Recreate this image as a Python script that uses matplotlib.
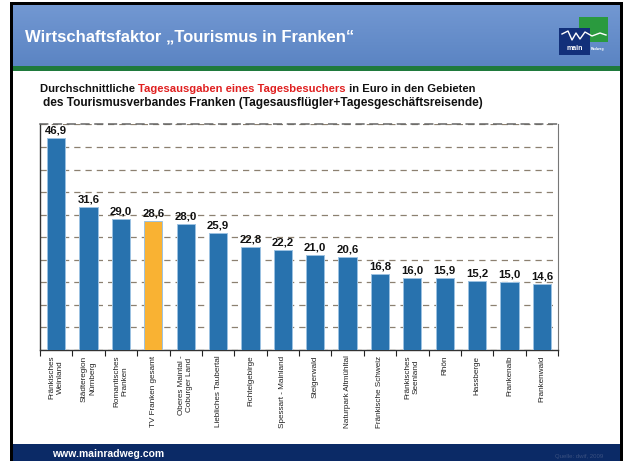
import matplotlib
matplotlib.use("Agg")
import matplotlib.pyplot as plt
from matplotlib.patches import Rectangle
import numpy as np

plt.rcParams['font.family'] = ['Liberation Sans', 'DejaVu Sans']

categories = ["Fränkisches\nWeinland", "Städteregion\nNürnberg", "Romantisches\nFranken",
              "TV Franken gesamt", "Oberes Maintal -\nCoburger Land", "Liebliches Taubertal",
              "Fichtelgebirge", "Spessart - Mainland", "Steigerwald", "Naturpark Altmühltal",
              "Fränkische Schweiz", "Fränkisches\nSeenland", "Rhön", "Hassberge",
              "Frankenalb", "Frankenwald"]
values = [46.9, 31.6, 29.0, 28.6, 28.0, 25.9, 22.8, 22.2, 21.0, 20.6,
          16.8, 16.0, 15.9, 15.2, 15.0, 14.6]
highlight = "TV Franken gesamt"

W, H = 625, 461
fig = plt.figure(figsize=(W / 100, H / 100), dpi=100)
fig.patch.set_facecolor('white')

def fx(x):
    return x / W

def fy(y):
    return 1 - y / H

def rect(x0, y0, x1, y1, color, z=0, **kw):
    fig.patches.append(Rectangle((fx(x0), fy(y1)), fx(x1) - fx(x0), fy(y0) - fy(y1),
                                 transform=fig.transFigure, facecolor=color,
                                 edgecolor='none', zorder=z, **kw))

# slide frame
rect(10, 2, 623, 461, 'black', z=-2)
rect(13, 5, 620, 461, 'white', z=-1)
# header gradient
grad = np.linspace(0, 1, 60).reshape(-1, 1)
hax = fig.add_axes([fx(13), fy(66), fx(620) - fx(13), fy(5) - fy(66)])
hax.imshow(grad, aspect='auto', cmap=matplotlib.colors.LinearSegmentedColormap.from_list(
    'h', ['#7298d2', '#5b84c3']), extent=[0, 1, 0, 1])
hax.axis('off')
hax.set_zorder(1)
rect(13, 66, 620, 71, '#1f7a3c', z=2)
# footer
rect(13, 444, 620, 461, '#0b2a66', z=2)
fig.text(fx(52), fy(454), "www.mainradweg.com", color='white', fontsize=7.5,
         fontweight='bold', va='center', ha='left', zorder=5)
fig.text(fx(603), fy(456), "Quelle: dwif, 2009", color='#3a5080', fontsize=4.3,
         va='center', ha='right', zorder=5)

# title
fig.text(fx(25), fy(37), "Wirtschaftsfaktor \u201eTourismus in Franken\u201c", color='white',
         fontsize=12, fontweight='bold', va='center', ha='left', zorder=5)

# logo
rect(579, 17, 608, 42, '#2a9a3e', z=5)
rect(559, 28, 590, 55, '#12307a', z=6)
fig.text(fx(575), fy(49), "main", color='white', fontsize=5, fontweight='bold',
         ha='center', va='center', zorder=7)
fig.text(fx(598), fy(49), "Radweg", color='white', fontsize=2.5, fontweight='bold',
         ha='center', va='center', zorder=7)
fig.lines.append(matplotlib.lines.Line2D(
    [fx(562), fx(568), fx(572), fx(576), fx(580), fx(585), fx(592), fx(600), fx(606)],
    [fy(34), fy(31), fy(40), fy(33), fy(39), fy(32), fy(36), fy(33), fy(35)],
    transform=fig.transFigure, color='white', lw=1, zorder=7))

# subtitle with red part
renderer = fig.canvas.get_renderer()
def colored_line(parts, x, y, size=8.3):
    cur = x
    for txt, col in parts:
        t = fig.text(fx(cur), fy(y), txt, color=col, fontsize=size, fontweight='bold',
                     ha='left', va='center', zorder=5)
        bb = t.get_window_extent(renderer=renderer)
        cur += bb.width
colored_line([("Durchschnittliche ", '#111111'),
              ("Tagesausgaben eines Tagesbesuchers", '#e02020'),
              (" in Euro in den Gebieten", '#111111')], 40, 89, size=8.15)
colored_line([("des Tourismusverbandes Franken (Tagesausflügler+Tagesgeschäftsreisende)", '#111111')],
             43, 103, size=8.6)

# chart
ax = fig.add_axes([fx(40), fy(350), fx(558) - fx(40), fy(124.5) - fy(350)])
ax.set_zorder(3)
x = np.arange(len(values))
colors = ['#f9b233' if c == highlight else '#2872ae' for c in categories]
ax.bar(x, values, width=0.56, color=colors, edgecolor='#9cc2e2', linewidth=0.7, zorder=3)
for xi, v in zip(x, values):
    ax.text(xi, v + 0.6, f"{v:.1f}".replace('.', ','), ha='center', va='bottom',
            fontsize=8.2, fontweight='bold', color='#111111', zorder=4)
ax.set_xlim(-0.5, len(values) - 0.5)
ax.set_ylim(0, 50)
ax.set_yticks(np.arange(0, 51, 5))
ax.set_yticklabels([])
ax.tick_params(axis='y', length=0)
ax.yaxis.grid(True, linestyle=(0, (5, 4)), color='#8c8070', linewidth=0.9, zorder=0)
ax.set_axisbelow(True)
ax.set_xticks(x)
ax.set_xticklabels(categories, rotation=90, fontsize=5.9, color='#222222',
                   multialignment='center', ha='center', va='top')
ax.tick_params(axis='x', length=0, pad=4)
ax.set_xticks(np.arange(-0.5, len(values), 1), minor=True)
ax.tick_params(axis='x', which='minor', length=4, width=0.8, color='#222222', direction='out')
for s in ['left', 'bottom']:
    ax.spines[s].set_color('#333333')
    ax.spines[s].set_linewidth(1)
ax.spines['right'].set_color('#777777')
ax.spines['top'].set_color('#666666')
ax.spines['top'].set_linestyle((0, (5, 4)))
ax.spines['top'].set_linewidth(1.1)
ax.set_facecolor('white')

fig.savefig('out.png', dpi=100)
